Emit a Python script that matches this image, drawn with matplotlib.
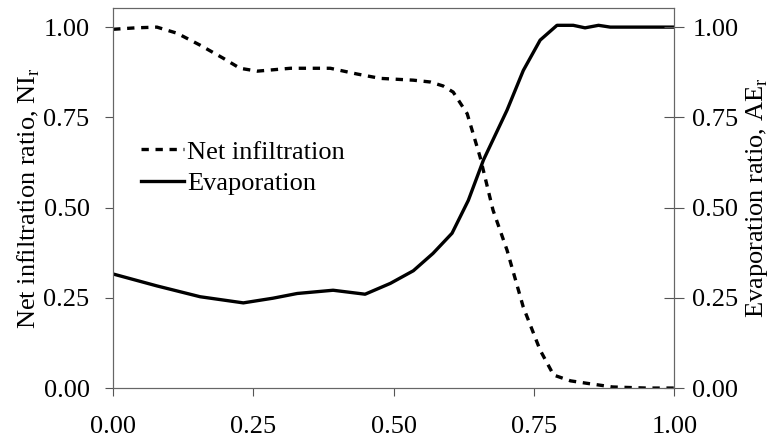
import matplotlib
matplotlib.use("Agg")
import matplotlib.pyplot as plt

plt.rcParams['font.family'] = ['Liberation Serif', 'DejaVu Serif']
plt.rcParams['mathtext.fontset'] = 'custom'
plt.rcParams['mathtext.rm'] = 'Liberation Serif'

# net infiltration ratio (dashed)
x_ni = [0.0, 0.04, 0.078, 0.114, 0.155, 0.196, 0.226, 0.257, 0.316, 0.387, 0.435,
        0.476, 0.535, 0.565, 0.588, 0.606, 0.631, 0.654, 0.677, 0.702, 0.731,
        0.761, 0.785, 0.815, 0.845, 0.89, 0.95, 1.0]
ni = [0.994, 0.998, 1.0, 0.983, 0.95, 0.914, 0.886, 0.878, 0.886, 0.886, 0.87,
      0.858, 0.853, 0.848, 0.837, 0.82, 0.76, 0.64, 0.493, 0.382, 0.224,
      0.105, 0.036, 0.02, 0.013, 0.003, 0.0, 0.0]

# evaporation ratio (solid)
x_ae = [0.0, 0.078, 0.155, 0.232, 0.285, 0.328, 0.392, 0.449, 0.494, 0.535,
        0.57, 0.604, 0.633, 0.66, 0.702, 0.731, 0.761, 0.791, 0.82, 0.841,
        0.865, 0.886, 0.95, 1.0]
ae = [0.316, 0.283, 0.253, 0.236, 0.249, 0.262, 0.271, 0.26, 0.29, 0.325,
      0.373, 0.429, 0.52, 0.632, 0.77, 0.88, 0.964, 1.005, 1.005, 0.998,
      1.005, 1.0, 1.0, 1.0]

ticks = [0.0, 0.25, 0.5, 0.75, 1.0]
tick_labels = ['0.00', '0.25', '0.50', '0.75', '1.00']

fs = 19
fig = plt.figure(figsize=(7.75, 4.44), dpi=100)
ax = fig.add_axes([0.146, 0.126, 0.724, 0.856])
ax.plot(x_ni, ni, color='black', lw=2.4, ls=(0, (2.2, 2.0)), label='Net infiltration')
ax.plot(x_ae, ae, color='black', lw=2.4, label='Evaporation')
ax.set_xlim(0, 1)
ax.set_ylim(0, 1.053)
ax.set_xticks(ticks)
ax.set_xticklabels(tick_labels)
ax.set_yticks(ticks)
ax.set_yticklabels(tick_labels)
ax.tick_params(axis='both', labelsize=fs, direction='out', length=6, width=0.8, color='#555555')
ax.tick_params(axis='x', pad=14)
ax.tick_params(axis='y', pad=11)
for s in ax.spines.values():
    s.set_linewidth(0.8)
    s.set_color('#666666')
ax.set_ylabel('Net infiltration ratio, NI$_\\mathrm{r}$', fontsize=fs, labelpad=1)

ax2 = ax.twinx()
ax2.set_ylim(0, 1.053)
ax2.set_yticks(ticks)
ax2.set_yticklabels(tick_labels)
ax2.tick_params(axis='y', labelsize=fs, direction='inout', length=14, width=0.8, color='#555555', pad=6)
for s in ax2.spines.values():
    s.set_linewidth(0.8)
    s.set_color('#666666')
ax2.set_ylabel('Evaporation ratio, AE$_\\mathrm{r}$', fontsize=fs, labelpad=4)

ax.legend(loc='center left', bbox_to_anchor=(0.007, 0.58), frameon=False, fontsize=fs,
          handlelength=1.65, handletextpad=0.1, labelspacing=0.3)

fig.savefig('out.png', dpi=100)
